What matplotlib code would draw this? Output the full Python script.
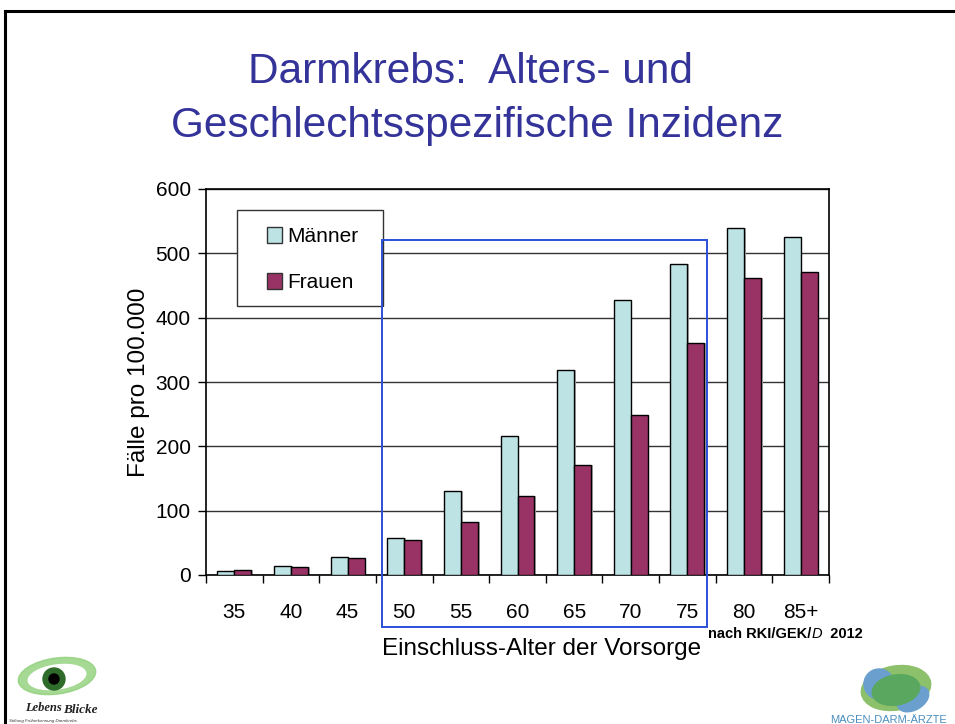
# -*- coding: utf-8 -*-
"""
Darmkrebs: alters- und geschlechtsspezifische Inzidenz (Balkendiagramm)
"""
import numpy as np
import matplotlib
matplotlib.use("Agg")
import matplotlib.pyplot as plt
from matplotlib.patches import Rectangle, Ellipse, Circle

#---------------------------------------------------
#-----------------------data------------------------
#---------------------------------------------------
age_groups = ["35", "40", "45", "50", "55", "60", "65", "70", "75", "80", "85+"]
maenner = [6, 14, 28, 58, 131, 216, 319, 428, 483, 540, 525]
frauen = [8, 12, 26, 54, 82, 123, 171, 248, 361, 462, 471]
y_ticks = [0, 100, 200, 300, 400, 500, 600]

# Vorsorge-Rahmen (50 bis 75)
box_first = "50"
box_last = "75"

#---------------------------------------------------
#----------------------styles-----------------------
#---------------------------------------------------
plt.rcParams['font.family'] = ['Liberation Sans', 'DejaVu Sans']
COL_M = "#bde3e5"
COL_F = "#993366"
COL_TITLE = "#333399"

W, H = 955, 724
fig = plt.figure(figsize=(W / 100, H / 100), dpi=100)

# background layer in pixel coordinates (slide border + logos)
bg = fig.add_axes([0, 0, 1, 1], zorder=-5)
bg.set_xlim(0, W)
bg.set_ylim(H, 0)
bg.axis("off")
bg.plot([5, 5, 960], [730, 11, 11], color="black", lw=2.2, solid_joinstyle="miter")

# left logo: eye
bg.add_patch(Ellipse((57, 676), 78, 36, angle=-8, color="#8fd07a", alpha=0.8))
bg.add_patch(Ellipse((57, 677), 58, 24, angle=-8, color="white"))
bg.add_patch(Circle((54, 679), 11, color="#2f6b2a"))
bg.add_patch(Circle((54, 679), 5, color="black"))
bg.text(25, 711, "Lebens", family="Liberation Serif", style="italic", weight="bold",
        fontsize=9, color="#222222")
bg.text(63, 713, "Blicke", family="Liberation Serif", style="italic", weight="bold",
        fontsize=9.5, color="#222222")
bg.text(9, 722, "Stiftung Früherkennung Darmkrebs", fontsize=3.2, style="italic",
        color="#333333")

# right logo: blobs
bg.add_patch(Ellipse((896, 688), 70, 44, angle=-10, color="#8cc06a"))
bg.add_patch(Ellipse((879, 684), 30, 30, angle=20, color="#6a9fce"))
bg.add_patch(Ellipse((913, 699), 34, 22, angle=-30, color="#6a9fce"))
bg.add_patch(Ellipse((896, 690), 48, 30, angle=-10, color="#5aa860"))
bg.text(830, 723, "MAGEN-DARM-ÄRZTE", fontsize=8, color="#4a8fc0")

# title
fig.text(470 / W, 1 - 83 / H, "Darmkrebs:  Alters- und", ha="center", va="baseline",
         fontsize=30.5, color=COL_TITLE)
fig.text(477 / W, 1 - 137 / H, "Geschlechtsspezifische Inzidenz", ha="center",
         va="baseline", fontsize=30.5, color=COL_TITLE)

#---------------------------------------------------
#-----------------------chart-----------------------
#---------------------------------------------------
ax = fig.add_axes([206 / W, 149 / H, 623 / W, 386 / H])
x = np.arange(len(age_groups))
bw = 0.3

# light shadow behind bars
ax.bar(x - bw / 2 + 0.03, maenner, bw, bottom=0, color="#b0b0b0", zorder=2)
ax.bar(x + bw / 2 + 0.03, frauen, bw, bottom=0, color="#b0b0b0", zorder=2)
ax.bar(x - bw / 2, maenner, bw, color=COL_M, edgecolor="black", lw=1.0,
       label="Männer", zorder=3)
ax.bar(x + bw / 2, frauen, bw, color=COL_F, edgecolor="black", lw=1.0,
       label="Frauen", zorder=3)

ax.set_xlim(-0.5, len(age_groups) - 0.5)
ax.set_ylim(0, 600)
ax.set_yticks(y_ticks)
ax.set_yticklabels([str(v) for v in y_ticks], fontsize=15)
ax.yaxis.grid(True, color="#333333", lw=1.0)
ax.set_axisbelow(True)

# category labels between boundary ticks
ax.set_xticks(np.arange(len(age_groups) + 1) - 0.5)
ax.set_xticklabels([])
ax.set_xticks(x, minor=True)
ax.set_xticklabels(age_groups, minor=True, fontsize=15)
ax.tick_params(axis="x", which="minor", length=0, pad=20)
ax.tick_params(axis="x", which="major", direction="out", length=6, width=1)
ax.tick_params(axis="y", direction="out", length=6, width=1, pad=5)
for s in ax.spines.values():
    s.set_linewidth(1.2)
    s.set_color("black")

ax.set_ylabel("Fälle pro 100.000", fontsize=17.5, labelpad=4)
ax.set_xlabel("Einschluss-Alter der Vorsorge", fontsize=17.5)
ax.xaxis.label.set_verticalalignment("baseline")
ax.xaxis.set_label_coords(0.539, (575 - 655) / 386)

# legend entries without frame, frame drawn separately
leg = ax.legend(loc="upper left", bbox_to_anchor=((267 - 206) / 623, (575 - 227) / 386),
                fontsize=15, frameon=False, borderpad=0, labelspacing=1.3,
                handlelength=0.7, handleheight=0.8, handletextpad=0.25,
                borderaxespad=0)
for h in leg.legend_handles:
    h.set_edgecolor("#333333")
ax.add_patch(Rectangle(((237 - 206) / 623, (575 - 306) / 386), 146 / 623, 96 / 386,
                       transform=ax.transAxes, fill=True, facecolor="white",
                       edgecolor="#333333", lw=1.0, zorder=4))
leg.set_zorder(6)

# blue screening frame
i0 = age_groups.index(box_first)
i1 = age_groups.index(box_last)
ax.add_patch(Rectangle((i0 - 0.39, -81), (i1 - i0) + 0.74, 602, fill=False,
                       edgecolor="#2a50d8", lw=1.4, clip_on=False, zorder=5))

# source note
fig.canvas.draw()
r = fig.canvas.get_renderer()
t1 = fig.text(708 / W, 1 - 638 / H, "nach RKI/GEK/", fontsize=10.5, weight="bold")
w1 = t1.get_window_extent(r).width / fig.bbox.width
t2 = fig.text(708 / W + w1, 1 - 638 / H, "D", fontsize=10.5, weight="normal",
              style="italic")
w2 = t2.get_window_extent(r).width / fig.bbox.width
fig.text(708 / W + w1 + w2, 1 - 638 / H, "  2012", fontsize=10.5, weight="bold")

fig.savefig("out.png", dpi=100)
